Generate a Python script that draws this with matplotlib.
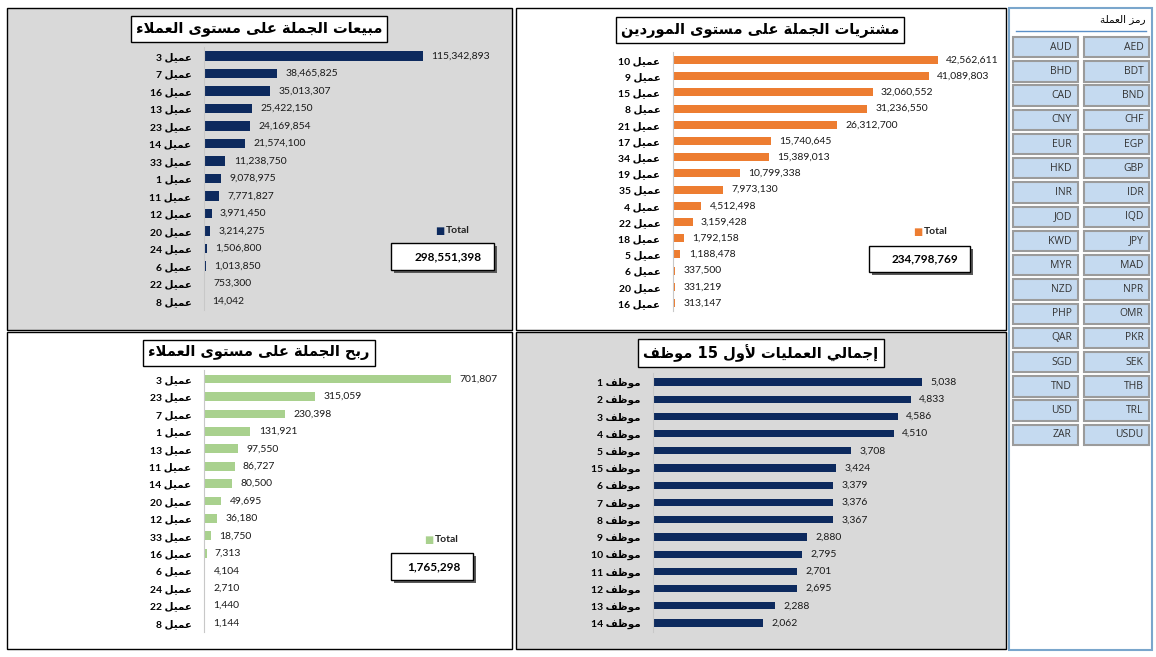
import matplotlib
matplotlib.use("Agg")
import matplotlib.pyplot as plt
from matplotlib.patches import Rectangle

# ---- data ----
sales_ids = [3, 7, 16, 13, 23, 14, 33, 1, 11, 12, 20, 24, 6, 22, 8]
sales_vals = [115342893, 38465825, 35013307, 25422150, 24169854, 21574100, 11238750,
              9078975, 7771827, 3971450, 3214275, 1506800, 1013850, 753300, 14042]
sales_total = 298551398

purch_ids = [10, 9, 15, 8, 21, 17, 34, 19, 35, 4, 22, 18, 5, 6, 20, 16]
purch_vals = [42562611, 41089803, 32060552, 31236550, 26312700, 15740645, 15389013,
              10799338, 7973130, 4512498, 3159428, 1792158, 1188478, 337500, 331219, 313147]
purch_total = 234798769

profit_ids = [3, 23, 7, 1, 13, 11, 14, 20, 12, 33, 16, 6, 24, 22, 8]
profit_vals = [701807, 315059, 230398, 131921, 97550, 86727, 80500, 49695, 36180,
               18750, 7313, 4104, 2710, 1440, 1144]
profit_total = 1765298

emp_ids = [1, 2, 3, 4, 5, 15, 6, 7, 8, 9, 10, 11, 12, 13, 14]
emp_vals = [5038, 4833, 4586, 4510, 3708, 3424, 3379, 3376, 3367, 2880, 2795,
            2701, 2695, 2288, 2062]

cur_left = ["AUD", "BHD", "CAD", "CNY", "EUR", "HKD", "INR", "JOD", "KWD", "MYR",
            "NZD", "PHP", "QAR", "SGD", "TND", "USD", "ZAR"]
cur_right = ["AED", "BDT", "BND", "CHF", "EGP", "GBP", "IDR", "IQD", "JPY", "MAD",
             "NPR", "OMR", "PKR", "SEK", "THB", "TRL", "USDU"]

# ---- simple arabic shaping (presentation forms, visual order) ----
FORMS = {
    'ء': (0xFE80, 1), 'أ': (0xFE83, 2), 'إ': (0xFE87, 2), 'ا': (0xFE8D, 2),
    'ب': (0xFE8F, 4), 'ة': (0xFE93, 2), 'ت': (0xFE95, 4), 'ج': (0xFE9D, 4),
    'ح': (0xFEA1, 4), 'د': (0xFEA9, 2), 'ر': (0xFEAD, 2), 'ز': (0xFEAF, 2),
    'س': (0xFEB1, 4), 'ش': (0xFEB5, 4), 'ظ': (0xFEC5, 4), 'ع': (0xFEC9, 4),
    'ف': (0xFED1, 4), 'ل': (0xFEDD, 4), 'م': (0xFEE1, 4), 'ن': (0xFEE5, 4),
    'و': (0xFEED, 2), 'ى': (0xFEEF, 2), 'ي': (0xFEF1, 4),
}
LAM_ALEF = {'ا': 0xFEFB, 'أ': 0xFEF7, 'إ': 0xFEF9}


def shape_word(w):
    chars = []
    i = 0
    while i < len(w):
        if w[i] == 'ل' and i + 1 < len(w) and w[i + 1] in LAM_ALEF:
            chars.append(('LA', LAM_ALEF[w[i + 1]], 2))
            i += 2
        else:
            base, n = FORMS.get(w[i], (None, 0))
            chars.append((w[i], base, n))
            i += 1
    out = []
    for k, (c, base, n) in enumerate(chars):
        if base is None:
            out.append(c)
            continue
        prev = chars[k - 1] if k > 0 else None
        nxt = chars[k + 1] if k + 1 < len(chars) else None
        cp = prev is not None and prev[2] == 4 and n >= 2
        cn = n == 4 and nxt is not None and nxt[2] >= 2
        if n == 4:
            off = 3 if (cp and cn) else 1 if cp else 2 if cn else 0
        elif n == 2:
            off = 1 if cp else 0
        else:
            off = 0
        out.append(chr(base + off))
    return ''.join(reversed(out))


def ar(text):
    # right-to-left: shape each word, then put the words in visual order
    toks = []
    for t in text.split(' '):
        if any(ch in FORMS for ch in t):
            toks.append(shape_word(t))
        else:
            toks.append(t)
    return ' '.join(reversed(toks))


W, H = 1156, 657
fig = plt.figure(figsize=(W / 100, H / 100), dpi=100)
fig.patch.set_facecolor("white")

NUM_FONT = ["Lato", "DejaVu Sans"]


def fbox(x0, y0, x1, y1):
    return [x0 / W, 1 - y1 / H, (x1 - x0) / W, (y1 - y0) / H]


def panel(x0, y0, x1, y1, face, edge="black", lw=1.0):
    fig.patches.append(Rectangle((x0 / W, 1 - y1 / H), (x1 - x0) / W, (y1 - y0) / H,
                                 transform=fig.transFigure, facecolor=face,
                                 edgecolor=edge, linewidth=lw, zorder=-2))


def title_box(cx, cy, text):
    fig.text(cx / W, 1 - cy / H, ar(text), ha="center", va="center", fontsize=10.5,
             fontweight="bold", family="DejaVu Sans", color="black", zorder=6,
             bbox=dict(boxstyle="square,pad=0.35", fc="white", ec="black", lw=1.0))


def bar_panel(ax_px, ids, vals, prefix, color, xmax, height, fmt="{:,}"):
    ax = fig.add_axes(fbox(*ax_px))
    ax.set_zorder(4)
    ax.patch.set_alpha(0)
    n = len(vals)
    ax.barh(range(n), vals, height=height, color=color)
    ax.set_ylim(n - 0.5, -0.5)
    ax.set_xlim(0, xmax)
    ax.set_yticks(range(n))
    ax.set_yticklabels([ar(prefix + " " + str(i)) for i in ids], family=NUM_FONT,
                       fontsize=7.5, fontweight="bold")
    ax.tick_params(axis="y", length=0, pad=9)
    ax.set_xticks([])
    for s in ["top", "right", "bottom"]:
        ax.spines[s].set_visible(False)
    ax.spines["left"].set_color("#c8c8c8")
    ax.spines["left"].set_linewidth(0.8)
    for k, v in enumerate(vals):
        ax.annotate(fmt.format(v), (v, k), xytext=(6, 0), textcoords="offset points",
                    va="center", ha="left", fontsize=7.5, family=NUM_FONT,
                    color="#1a1a1a")
    return ax


def total_box(lx, ly, bx0, by0, bx1, by1, color, total):
    fig.text(lx / W, 1 - ly / H, "\u25A0", color=color, fontsize=7, ha="right",
             va="center")
    fig.text((lx + 2) / W, 1 - ly / H, "Total", fontsize=7.5, fontweight="bold",
             family=NUM_FONT, ha="left", va="center", color="#222222")
    fig.patches.append(Rectangle(((bx0 + 3) / W, 1 - (by1 + 3) / H), (bx1 - bx0) / W,
                                 (by1 - by0) / H, transform=fig.transFigure,
                                 facecolor="#595959", edgecolor="none", zorder=1))
    fig.patches.append(Rectangle((bx0 / W, 1 - by1 / H), (bx1 - bx0) / W,
                                 (by1 - by0) / H, transform=fig.transFigure,
                                 facecolor="white", edgecolor="black", linewidth=1.0,
                                 zorder=2))
    fig.text((bx1 - 12) / W, 1 - (by0 + by1) / 2 / H, f"{total:,}", fontsize=8.5,
             fontweight="bold", family=NUM_FONT, ha="right", va="center", zorder=3)


NAVY = "#0d2a5e"
ORANGE = "#ed7d31"
GREEN = "#a9d18e"

# panels
panel(7, 8, 512, 330, "#d9d9d9")
panel(516, 8, 1006, 330, "white")
panel(7, 332, 512, 649, "white")
panel(516, 332, 1006, 649, "#d9d9d9")

# sales
bar_panel((204, 47.3, 500, 309.8), sales_ids, sales_vals, "عميل", NAVY,
          115342893 * 296 / 219, 0.55)
title_box(259, 29, "مبيعات الجملة على مستوى العملاء")
total_box(444, 231, 391, 243, 494, 270, NAVY, sales_total)

# purchases
bar_panel((673, 51.9, 1000, 311.1), purch_ids, purch_vals, "عميل", ORANGE,
          42562611 * 327 / 265, 0.5)
title_box(760, 30, "مشتريات الجملة على مستوى الموردين")
total_box(922, 232, 869, 246, 970, 272, ORANGE, purch_total)

# profit
bar_panel((204, 370.3, 500, 631.7), profit_ids, profit_vals, "عميل", GREEN,
          701807 * 296 / 247, 0.5)
title_box(259, 353, "ربح الجملة على مستوى العملاء")
total_box(433, 540, 391, 553, 473, 580, GREEN, profit_total)

# employees
bar_panel((653, 373.4, 1000, 631.6), emp_ids, emp_vals, "موظف", NAVY,
          5038 * 347 / 269, 0.42)
title_box(761, 353, "إجمالي العمليات لأول 15 موظف")

# currency slicer
panel(1009, 8, 1152, 650, "white", edge="#7aa6cc", lw=1.5)
fig.text(1145 / W, 1 - 19 / H, ar("رمز العملة"), fontsize=7.5, ha="right",
         va="center", family="DejaVu Sans")
fig.lines.append(plt.Line2D([1016 / W, 1146 / W], [1 - 31 / H, 1 - 31 / H],
                            transform=fig.transFigure, color="#5b8fc7", lw=1.0))
sl = fig.add_axes(fbox(1009, 35, 1152, 447))
sl.set_zorder(4)
sl.axis("off")
sl.set_xlim(0, 2)
sl.set_ylim(len(cur_left), 0)
for col, names in enumerate([cur_left, cur_right]):
    for r, name in enumerate(names):
        sl.add_patch(Rectangle((col + 0.05, r + 0.08), 0.91, 0.84, facecolor="#c5daf0",
                               edgecolor="#9b9b9b", linewidth=1.5))
        sl.text(col + 0.88, r + 0.5, name, ha="right", va="center", fontsize=7.5,
                family=["Open Sans", "DejaVu Sans"], color="#333333")

fig.savefig("out.png", dpi=100)
